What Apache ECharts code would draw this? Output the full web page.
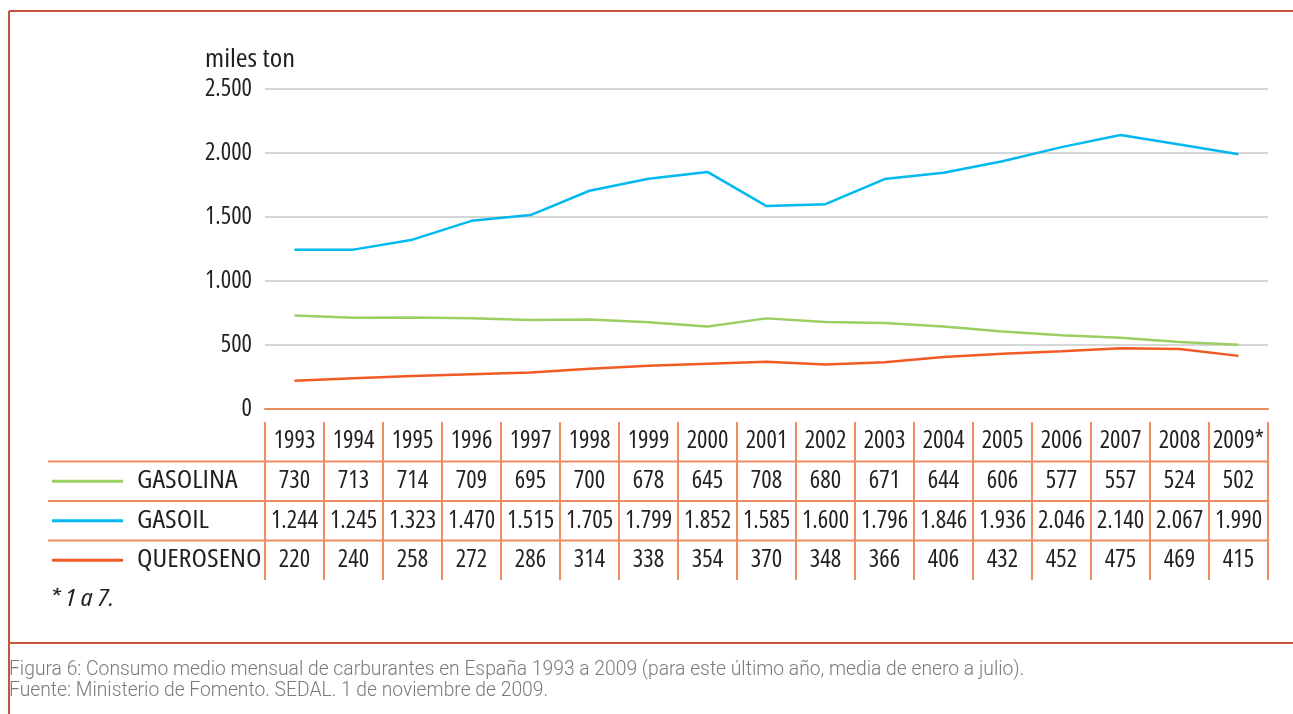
<!DOCTYPE html>
<html>
<head>
<meta charset="utf-8">
<title>Consumo de carburantes</title>
<script src="https://cdn.jsdelivr.net/npm/echarts@6/dist/echarts.min.js"></script>
<style>
  html, body { margin: 0; padding: 0; background: #fff; }
  #main { width: 1293px; height: 714px; }
</style>
</head>
<body>
<div id="main"></div>
<script>
// years + series (miles ton)
var years = ['1993', '1994', '1995', '1996', '1997', '1998', '1999', '2000', '2001',
  '2002', '2003', '2004', '2005', '2006', '2007', '2008', '2009*']
var gasolina = [730, 713, 714, 709, 695, 700, 678, 645, 708, 680, 671, 644, 606, 577, 557, 524, 502]
var gasoil = [1244, 1245, 1323, 1470, 1515, 1705, 1799, 1852, 1585, 1600, 1796, 1846, 1936, 2046, 2140, 2067, 1990]
var queroseno = [220, 240, 258, 272, 286, 314, 338, 354, 370, 348, 366, 406, 432, 452, 475, 469, 415]
var seriesNames = ['GASOLINA', 'GASOIL', 'QUEROSENO']
var yTicks = [0, 500, 1000, 1500, 2000, 2500]

// condensed face of Open Sans is picked through font-stretch
var FAMILY = "'Open Sans', sans-serif"
var FS = 24.5
var NUM = 'condensed ' + FS + 'px ' + FAMILY
var WIDEN = 1.16 // words in the original are a bit wider than the condensed face
var TEXT = '#231f20'
var TABLE = '#ee8c5f'
var FRAME = '#c0563b'
var colors = ['#9bcf63', '#00b9f1', '#f15a24']

// 1.244 style
function fmt(v) {
  return String(v).replace(/\B(?=(\d{3})+(?!\d))/g, '.')
}

var labelStyle = { fontFamily: FAMILY, fontStyle: 'condensed', fontSize: FS, color: TEXT }

var chart = echarts.init(document.getElementById('main'))

chart.setOption({
  animation: false,
  color: colors,
  grid: { left: 265, right: 25, top: 89, bottom: 305 },
  xAxis: {
    type: 'category',
    data: years,
    boundaryGap: true,
    axisLine: { lineStyle: { color: TABLE, width: 2 } },
    axisTick: { alignWithLabel: true, length: 5, lineStyle: { color: TABLE, width: 1.5 } },
    axisLabel: Object.assign({ margin: 20, interval: 0 }, labelStyle)
  },
  yAxis: {
    type: 'value',
    min: yTicks[0],
    max: yTicks[yTicks.length - 1],
    interval: 500,
    axisLine: { show: false },
    axisTick: { show: false },
    axisLabel: Object.assign({ margin: 13, formatter: fmt }, labelStyle),
    splitLine: { lineStyle: { color: '#c8c8c8', width: 1.5 } }
  },
  series: [
    { name: seriesNames[0], type: 'line', data: gasolina, symbol: 'none', lineStyle: { width: 2.5 } },
    { name: seriesNames[1], type: 'line', data: gasoil, symbol: 'none', lineStyle: { width: 2.5 } },
    { name: seriesNames[2], type: 'line', data: queroseno, symbol: 'none', lineStyle: { width: 2.5 } }
  ]
})

// data table under the axis, aligned to the category positions
var rows = [gasolina, gasoil, queroseno]
var xc = years.map(function (y, i) { return chart.convertToPixel({ xAxisIndex: 0 }, i) })
var cw = xc[1] - xc[0]
var tLeft = xc[0] - cw / 2
var tRight = xc[xc.length - 1] + cw / 2
var topY = 422
var rowH = 39.5
var g = []

function line(x1, y1, x2, y2, color, w) {
  g.push({ type: 'line', shape: { x1: x1, y1: y1, x2: x2, y2: y2 }, style: { stroke: color, lineWidth: w }, silent: true })
}
function text(str, x, y, align, font, fill, sx) {
  g.push({
    type: 'text', x: x, y: y, scaleX: sx || 1, silent: true,
    style: { text: str, fill: fill || TEXT, font: font, textAlign: align, textVerticalAlign: 'middle' }
  })
}

text('miles ton', 205, 60, 'left', NUM, TEXT, WIDEN)

for (var i = 0; i <= years.length; i++) {
  var vx = tLeft + i * cw
  line(vx, topY, vx, topY + rowH * 4, TABLE, 2)
}
for (var r = 0; r < rows.length; r++) {
  var hy = topY + rowH * (r + 1)
  line(48, hy, tRight, hy, TABLE, 2)
  var cy = hy + rowH / 2
  line(52, cy, 123, cy, colors[r], 3)
  text(seriesNames[r], 137, cy, 'left', NUM, TEXT, WIDEN)
  rows[r].forEach(function (v, k) { text(fmt(v), xc[k], cy, 'center', NUM) })
}

text('* 1 a 7.', 50, 599, 'left', 'italic ' + NUM, TEXT, WIDEN)

// frame + caption
var CAP = '300 19.3px Roboto, sans-serif'
line(9, 11, 1293, 11, FRAME, 2)
line(9, 11, 9, 714, FRAME, 2)
line(9, 643, 1293, 643, FRAME, 2)
text('Figura 6: Consumo medio mensual de carburantes en España 1993 a 2009 (para este último año, media de enero a julio).',
  9, 670, 'left', CAP, '#7a7a7a')
text('Fuente: Ministerio de Fomento. SEDAL. 1 de noviembre de 2009.',
  9, 691, 'left', CAP, '#7a7a7a')

chart.setOption({ graphic: g })
</script>
</body>
</html>
